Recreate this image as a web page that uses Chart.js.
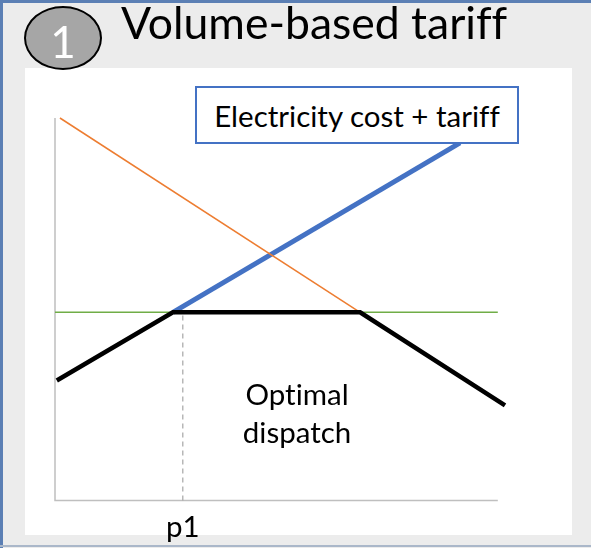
<!DOCTYPE html>
<html>
<head>
<meta charset="utf-8">
<script src="https://cdn.jsdelivr.net/npm/chart.js@4.4.1/dist/chart.umd.min.js"></script>
<style>
    body { margin: 0; }
    #frame {
        position: relative; width: 591px; height: 548px; overflow: hidden;
        background: #ececec; font-family: Lato, sans-serif; color: #000;
        font-variant-ligatures: none; font-feature-settings: "liga" 0;
    }
    .edge { position: absolute; background: #5b7fb4; }
    #panel { position: absolute; left: 25px; top: 68px; width: 547px; height: 467px; background: #fff; }
    #badge {
        position: absolute; left: 24px; top: 6px; width: 74px; height: 60px;
        border: 2px solid #000; border-radius: 50%; background: #a6a6a6;
        color: #fff; font-size: 44px; line-height: 66px; text-align: center;
    }
    #title { position: absolute; left: 121px; top: -5px; font-size: 44.5px; white-space: nowrap; }
    #costBox {
        position: absolute; left: 195px; top: 86px; width: 320px; height: 54px;
        border: 2px solid #4472c4; background: #fff; font-size: 29.5px;
        line-height: 56px; text-align: center; white-space: nowrap;
    }
    .note { position: absolute; font-size: 29.5px; width: 200px; text-align: center; }
    canvas { position: absolute; left: 0; top: 0; }
</style>
</head>
<body>
<div id="frame">
    <div class="edge" style="left:0;top:0;width:3px;height:548px"></div>
    <div class="edge" style="left:0;top:0;width:591px;height:3px"></div>
    <div class="edge" style="left:0;top:545px;width:591px;height:2px;background:#aab7c9"></div>
    <div id="panel"></div>
    <canvas id="chart" width="591" height="548"></canvas>
    <div id="badge">1</div>
    <div id="title">Volume-based tariff</div>
    <div id="costBox">Electricity cost + tariff</div>
    <div class="note" style="left:197px;top:376px">Optimal</div>
    <div class="note" style="left:197px;top:414px">dispatch</div>
</div>
<script>
// x/y in a 0-10 sketch space
const p1 = 2.84;
const tariffLevel = 4.92;

const orangeX = [0.11, 6.78];
const orangeY = [10, tariffLevel];

const greenX = [0, 9.84];
const greenY = [tariffLevel, tariffLevel];

const blueX = [2.62, 9.0];
const blueY = [tariffLevel, 9.35];

const dispatchX = [0.04, 2.62, 6.78, 10];
const dispatchY = [3.14, tariffLevel, tariffLevel, 2.49];

const dashX = [p1, p1];
const dashY = [0, tariffLevel];

const axisX = [0, 0, 9.84];
const axisY = [10, 0, 0];

const tickValues = [p1];
const tickLabels = ['p1'];

function pts(xs, ys) {
    return xs.map((x, i) => ({ x: x, y: ys[i] }));
}

function line(data, color, width, order, dash) {
    return {
        data: data,
        borderColor: color,
        borderWidth: width,
        borderDash: dash || [],
        pointRadius: 0,
        fill: false,
        tension: 0,
        order: order,
        clip: false,
        borderCapStyle: 'butt',
        borderJoinStyle: 'miter'
    };
}

document.addEventListener('DOMContentLoaded', () => {
    const ctx = document.getElementById('chart');
    new Chart(ctx, {
        type: 'line',
        data: {
            datasets: [
                line(pts(dispatchX, dispatchY), '#000000', 4.5, 1),
                line(pts(orangeX, orangeY), '#ed7d31', 1.5, 2),
                line(pts(greenX, greenY), '#70ad47', 1.5, 3),
                line(pts(blueX, blueY), '#4472c4', 5, 4),
                line(pts(dashX, dashY), '#a6a6a6', 1.2, 5, [5, 4]),
                line(pts(axisX, axisY), '#bfbfbf', 1.5, 6)
            ]
        },
        options: {
            responsive: false,
            animation: false,
            events: [],
            layout: { padding: { left: 55, right: 86, top: 118, bottom: 2 } },
            plugins: { legend: { display: false }, tooltip: { enabled: false } },
            scales: {
                x: {
                    type: 'linear',
                    min: 0,
                    max: 10,
                    grid: { display: false },
                    border: { display: false },
                    afterBuildTicks: (scale) => {
                        scale.ticks = tickValues.map(v => ({ value: v }));
                    },
                    ticks: {
                        autoSkip: false,
                        maxRotation: 0,
                        padding: 1,
                        color: '#000',
                        font: { family: 'Lato', size: 29.5 },
                        callback: (value) => tickLabels[tickValues.indexOf(value)]
                    }
                },
                y: { type: 'linear', min: 0, max: 10, display: false }
            }
        }
    });
});
</script>
</body>
</html>
